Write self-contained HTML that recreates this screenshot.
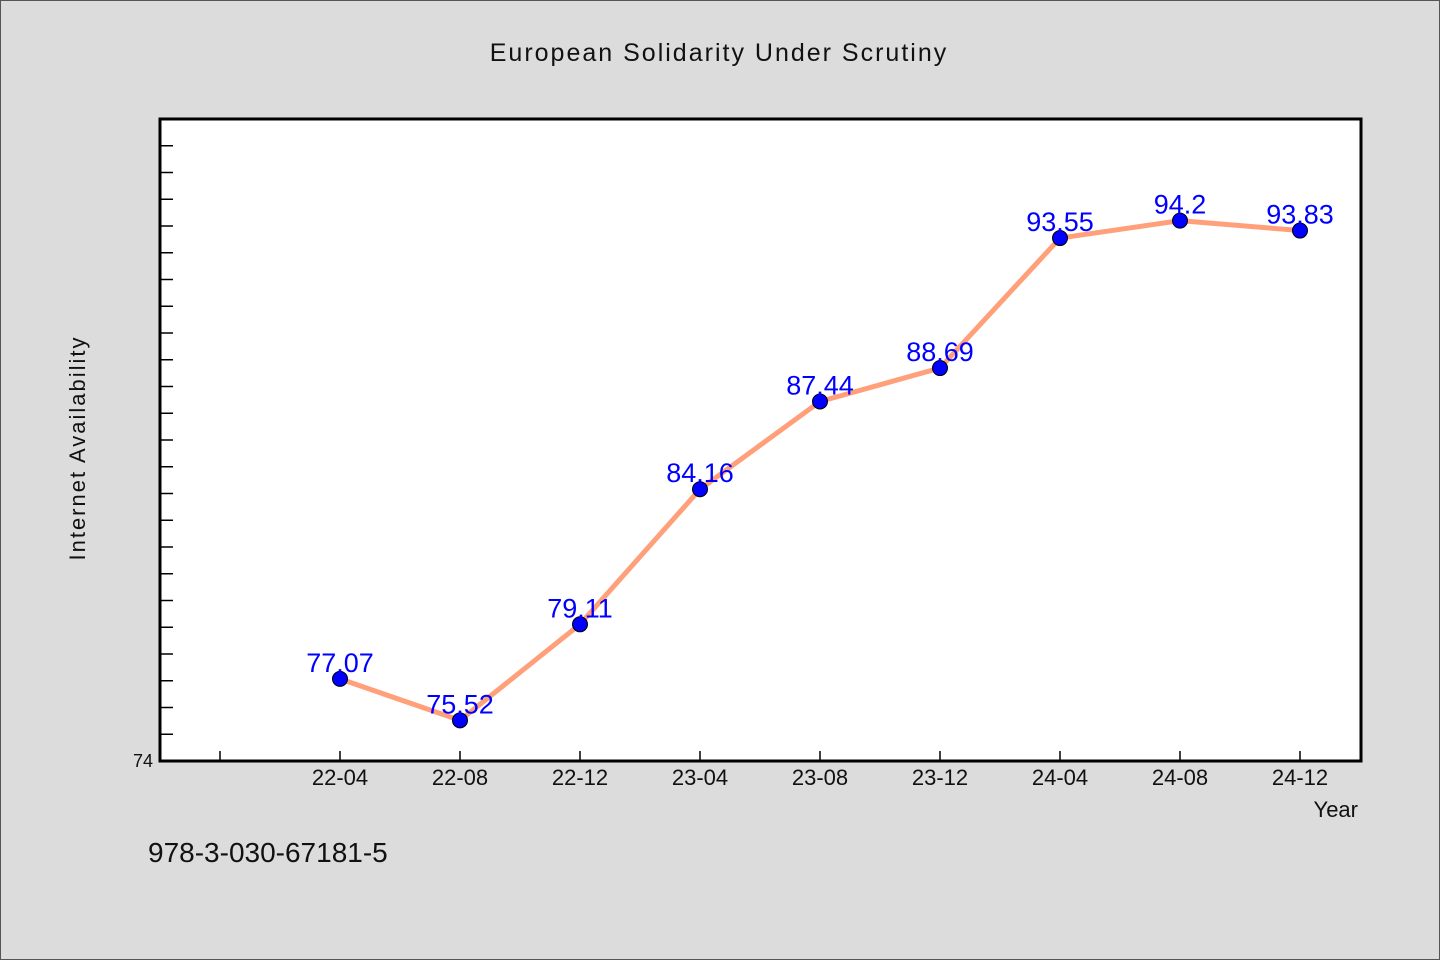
<!DOCTYPE html>
<html><head><meta charset="utf-8"><style>
html,body{margin:0;padding:0;background:#dcdcdc;}
svg{display:block;font-family:"WenQuanYi Zen Hei","Liberation Sans",sans-serif;}
</style></head><body>
<svg id="chart" width="1440" height="960" viewBox="0 0 1440 960">
<rect x="0.5" y="0.5" width="1439" height="959" fill="#dcdcdc" stroke="#555"/>
<text x="719" y="61" text-anchor="middle" font-size="25" letter-spacing="2" fill="#111">European Solidarity Under Scrutiny</text>
<rect x="160" y="119" width="1201" height="642" fill="#fff" stroke="#000" stroke-width="3"/>
<g id="yticks"></g>
<g id="xticks"></g>
<text x="0" y="0" transform="translate(85,448) rotate(-90)" text-anchor="middle" font-size="22" letter-spacing="2" fill="#111">Internet Availability</text>
<text x="1358" y="817" text-anchor="end" font-size="22" fill="#111">Year</text>
<text x="148" y="862" font-size="28" fill="#111">978-3-030-67181-5</text>
<g id="series"></g>
</svg>
<script>
const categories = ["22-04","22-08","22-12","23-04","23-08","23-12","24-04","24-08","24-12"];
const values = [77.07,75.52,79.11,84.16,87.44,88.69,93.55,94.2,93.83];
const yMin = 74, yMax = 98;
const ns = "http://www.w3.org/2000/svg";
const L=160,R=1361,T=119,B=761;
function y(v){return B-(v-yMin)/(yMax-yMin)*(B-T);}
function x(i){return 340+i*120;}
function mk(tag,attrs,parent){const e=document.createElementNS(ns,tag);for(const k in attrs)e.setAttribute(k,attrs[k]);parent.appendChild(e);return e;}
const yt=document.getElementById('yticks');
for(let v=yMin+1;v<yMax;v++){
  const t=mk('line',{x1:L,x2:L+13,y1:y(v),y2:y(v),stroke:'#000','stroke-width':1.5},yt);
  
  
}
const yl=mk('text',{x:153,y:B+6,'text-anchor':'end','font-size':18,fill:'#111'},yt);
yl.textContent=String(yMin);


const xt=document.getElementById('xticks');
const t0=mk('line',{x1:x(-1),x2:x(-1),y1:B,y2:B-10,stroke:'#000','stroke-width':1.5},xt);


categories.forEach((c,i)=>{
  const t=mk('line',{x1:x(i),x2:x(i),y1:B,y2:B-10,stroke:'#000','stroke-width':1.5},xt);
  
  
  const l=mk('text',{x:x(i),y:B+24,'text-anchor':'middle','font-size':22,fill:'#111'},xt);
  l.textContent=c;
  
  
});
const s=document.getElementById('series');
const line=mk('polyline',{points:values.map((v,i)=>x(i)+','+y(v)).join(' '),fill:'none',stroke:'#ffa07a','stroke-width':5},s);


values.forEach((v,i)=>{
  const c=mk('circle',{cx:x(i),cy:y(v),r:7.5,fill:'#0000ff',stroke:'#000','stroke-width':1},s);
  
  
});
values.forEach((v,i)=>{
  const l=mk('text',{x:x(i),y:y(v)-7,'text-anchor':'middle','font-size':27,fill:'#0000ff'},s);
  l.textContent=String(v);
  
  
});
</script>
</body></html>
